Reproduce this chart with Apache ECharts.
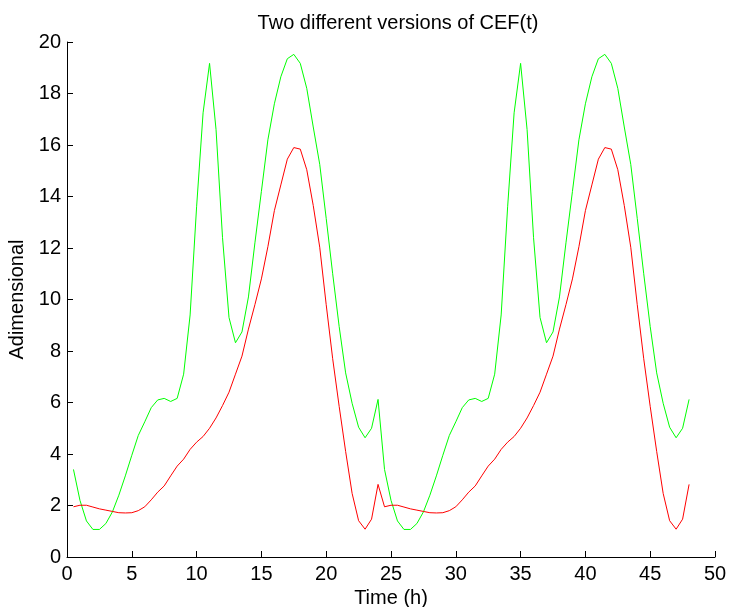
<!DOCTYPE html>
<html>
<head>
<meta charset="utf-8">
<script src="https://cdn.jsdelivr.net/npm/echarts@6/dist/echarts.min.js"></script>
<style>
html,body{margin:0;padding:0;background:#fff;}
#chart{width:731px;height:607px;}
</style>
</head>
<body>
<div id="chart"></div>
<script>
var hours = [0.5,1,1.5,2,2.5,3,3.5,4,4.5,5,5.5,6,6.5,7,7.5,8,8.5,9,9.5,10,10.5,11,11.5,12,12.5,13,13.5,14,14.5,15,15.5,16,16.5,17,17.5,18,18.5,19,19.5,20,20.5,21,21.5,22,22.5,23,23.5,24,
  24.5,25,25.5,26,26.5,27,27.5,28,28.5,29,29.5,30,30.5,31,31.5,32,32.5,33,33.5,34,34.5,35,35.5,36,36.5,37,37.5,38,38.5,39,39.5,40,40.5,41,41.5,42,42.5,43,43.5,44,44.5,45,45.5,46,46.5,47,47.5,48];

var cefGreen = [3.40,2.20,1.40,1.07,1.07,1.30,1.75,2.40,3.15,3.95,4.72,5.25,5.80,6.10,6.16,6.04,6.16,7.10,9.40,13.6,17.25,19.17,16.6,12.4,9.30,8.32,8.74,10.1,12.2,14.2,16.2,17.6,18.65,19.35,19.52,19.17,18.2,16.7,15.25,13.15,11.0,8.95,7.15,5.97,5.04,4.63,5.0,6.12,
  3.40,2.20,1.40,1.07,1.07,1.30,1.75,2.40,3.15,3.95,4.72,5.25,5.80,6.10,6.16,6.04,6.16,7.10,9.40,13.6,17.25,19.17,16.6,12.4,9.30,8.32,8.74,10.1,12.2,14.2,16.2,17.6,18.65,19.35,19.52,19.17,18.2,16.7,15.25,13.15,11.0,8.95,7.15,5.97,5.04,4.63,5.0,6.12];

var cefRed = [1.95,2.01,2.01,1.94,1.87,1.82,1.77,1.72,1.71,1.72,1.80,1.95,2.22,2.52,2.76,3.15,3.53,3.80,4.18,4.46,4.68,5.0,5.4,5.88,6.4,7.1,7.8,8.85,9.8,10.8,12.05,13.45,14.45,15.45,15.9,15.84,15.04,13.65,12.03,9.8,7.7,5.85,4.1,2.47,1.41,1.08,1.47,2.82,
  1.95,2.01,2.01,1.94,1.87,1.82,1.77,1.72,1.71,1.72,1.80,1.95,2.22,2.52,2.76,3.15,3.53,3.80,4.18,4.46,4.68,5.0,5.4,5.88,6.4,7.1,7.8,8.85,9.8,10.8,12.05,13.45,14.45,15.45,15.9,15.84,15.04,13.65,12.03,9.8,7.7,5.85,4.1,2.47,1.41,1.08,1.47,2.82];

var titleText = 'Two different versions of CEF(t)';
var xName = 'Time (h)';
var yName = 'Adimensional';

function pairs(xs, ys){ return xs.map(function(x,i){ return [x, ys[i]]; }); }

var font = 'Liberation Sans, Arial, Helvetica, sans-serif';
var chart = echarts.init(document.getElementById('chart'), null, {renderer:'canvas'});
chart.setOption({
  animation: false,
  backgroundColor: '#ffffff',
  title: {
    text: titleText, left: 393, top: 8, textAlign: 'center',
    textStyle: {fontFamily: font, fontSize: 20, fontWeight: 'normal', color: '#000'}
  },
  grid: {left: 67, right: 16, top: 42, bottom: 50, containLabel: false, outerBoundsMode: 'none'},
  xAxis: {
    type: 'value', min: 0, max: 50, interval: 5,
    name: xName, nameLocation: 'middle', nameGap: 30,
    nameTextStyle: {fontFamily: font, fontSize: 20, color: '#000'},
    axisLine: {show: true, onZero: false, lineStyle: {color: '#000', width: 1}},
    axisTick: {show: true, inside: true, length: 6, lineStyle: {color: '#000'}},
    axisLabel: {fontFamily: font, fontSize: 20, color: '#000', margin: 7},
    splitLine: {show: false}
  },
  yAxis: {
    type: 'value', min: 0, max: 20, interval: 2,
    name: yName, nameLocation: 'middle', nameGap: 37, nameRotate: 90,
    nameTextStyle: {fontFamily: font, fontSize: 20, color: '#000'},
    axisLine: {show: true, onZero: false, lineStyle: {color: '#000', width: 1}},
    axisTick: {show: true, inside: true, length: 6, lineStyle: {color: '#000'}},
    axisLabel: {fontFamily: font, fontSize: 20, color: '#000', margin: 6},
    splitLine: {show: false}
  },
  series: [
    {type: 'line', data: pairs(hours, cefGreen), showSymbol: false, symbol: 'none',
     lineStyle: {color: '#00ff00', width: 1}, itemStyle: {color: '#00ff00'}},
    {type: 'line', data: pairs(hours, cefRed), showSymbol: false, symbol: 'none',
     lineStyle: {color: '#ff0000', width: 1}, itemStyle: {color: '#ff0000'}}
  ]
});
</script>
</body>
</html>
